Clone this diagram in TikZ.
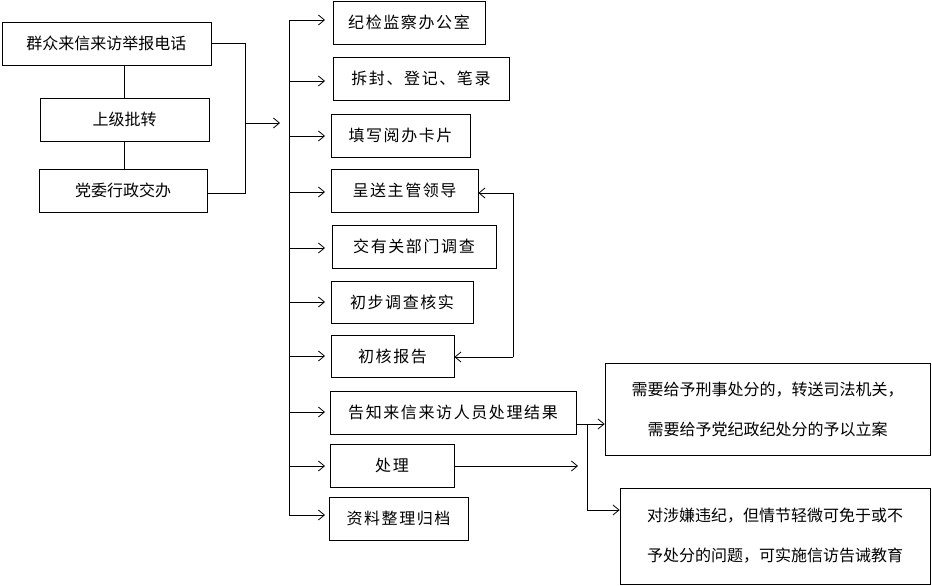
\documentclass[tikz,border=0pt]{standalone}
\usepackage{fontspec}
\setmainfont{Noto Sans CJK SC}
\newfontfamily\cjkw[LetterSpace=10]{Noto Sans CJK SC}
\usetikzlibrary{arrows.meta}
\begin{document}
\begin{tikzpicture}[x=1pt,y=-1pt,line width=0.8pt,
  bx/.style={draw,inner sep=0pt,font=\fontsize{16}{18}\selectfont,text=black},
  ar/.style={-{Straight Barb[length=6pt,width=10pt]}}]
\useasboundingbox (0,0) rectangle (932,586);
% left boxes
\node[bx,minimum width=209,minimum height=43] (l1) at (106.5,43.5) {群众来信来访举报电话};
\node[bx,minimum width=169,minimum height=43] (l2) at (124.5,119.5) {上级批转};
\node[bx,minimum width=168,minimum height=43] (l3) at (123,190.5) {党委行政交办};
\draw (l1.south -| 124,0) -- (l2.north -| 124,0);
\draw (l2.south -| 124,0) -- (l3.north -| 124,0);
\coordinate (bt) at (245,43);
\coordinate (bb) at (245,193);
\draw (l1.east |- bt) -- (bt) -- (bb) -- (l3.east |- bb);
\coordinate (ms) at (245,123);
\coordinate (me) at (280,123);
\draw[ar] (ms) -- (me);
% right boxes
\node[bx,minimum width=152,minimum height=43] (r1) at (409,22.5) {\cjkw 纪检监察办公室};
\node[bx,minimum width=176,minimum height=43] (r2) at (421,78.5) {\cjkw 拆封、登记、笔录};
\node[bx,minimum width=139,minimum height=43] (r3) at (400.5,135.5) {\cjkw 填写阅办卡片};
\node[bx,minimum width=147,minimum height=43] (r4) at (404.5,190.5) {\cjkw 呈送主管领导};
\node[bx,minimum width=164,minimum height=43] (r5) at (414,246.5) {\cjkw 交有关部门调查};
\node[bx,minimum width=142,minimum height=42] (r6) at (402,302) {\cjkw 初步调查核实};
\node[bx,minimum width=123,minimum height=42] (r7) at (392.5,356) {\cjkw 初核报告};
\node[bx,minimum width=246,minimum height=43] (r8) at (453,412.5) {\cjkw 告知来信来访人员处理结果};
\node[bx,minimum width=124,minimum height=43] (r9) at (392,465.5) {\cjkw 处理};
\node[bx,minimum width=139,minimum height=43] (r10) at (398.5,518.5) {\cjkw 资料整理归档};
\coordinate (vt) at (289,20);
\coordinate (vb) at (289,515);
\draw (vt) -- (vb);
\foreach \n/\y in {r1/20,r2/81,r3/136,r4/192,r5/248,r6/302,r7/356,r8/412,r9/466,r10/515}{
  \coordinate (s\n) at (289,\y);
  \coordinate (e\n) at (325,\y);
  \draw[ar] (s\n) -- (e\n);
}
% feedback
\coordinate (f1) at (513,357);
\coordinate (f2) at (513,193);
\draw[ar] (f1) -- (r7.east |- f1);
\draw[ar] (f1) -- (f2) -- (r4.east |- f2);
% right outcome boxes
\node[bx,minimum width=325,minimum height=92,align=center,font=\fontsize{16}{40}\selectfont] (a) at (767.5,409) {需要给予刑事处分的，转送司法机关，\\需要给予党纪政纪处分的予以立案};
\node[bx,minimum width=310,minimum height=96,align=center,font=\fontsize{16}{40}\selectfont] (b) at (775,536) {对涉嫌违纪，但情节轻微可免于或不\\予处分的问题，可实施信访告诫教育};
\coordinate (o1) at (587,424);
\coordinate (o2) at (587,510);
\draw[ar] (r8.east |- o1) -- (a.west |- o1);
\draw[ar] (o1) -- (o2) -- (b.west |- o2);
\coordinate (p2) at (578,466);
\draw[ar] (r9.east |- p2) -- (p2);
\end{tikzpicture}
\end{document}
